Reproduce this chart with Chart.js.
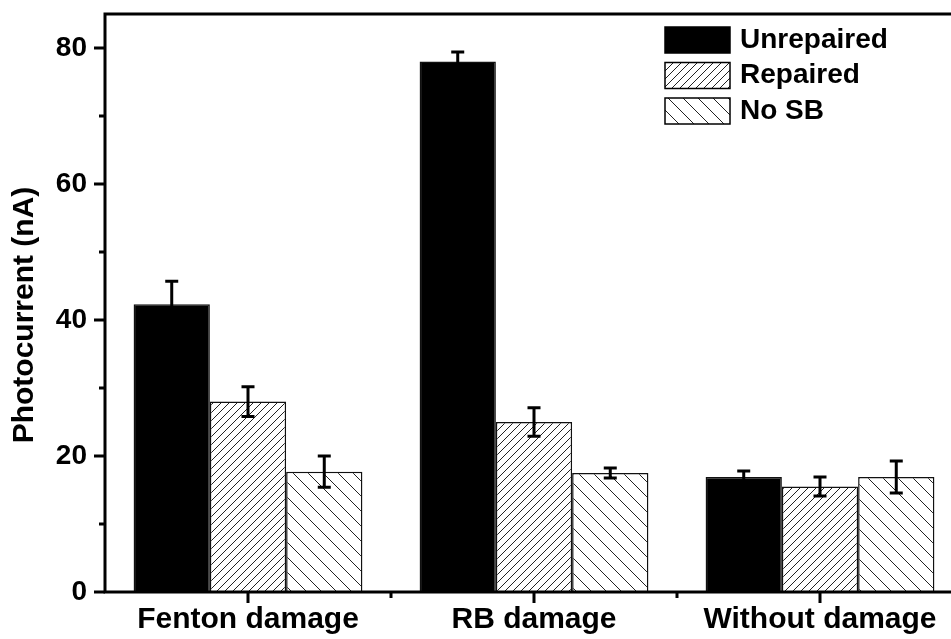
<!DOCTYPE html>
<html><head><meta charset="utf-8">
<script src="https://cdn.jsdelivr.net/npm/chart.js@4"></script>
<style>html,body{margin:0;padding:0;overflow:hidden;background:#fff;width:951px;height:639px}</style>
</head><body>
<canvas id="c" width="980" height="639"></canvas>
<script>
const categories = ['Fenton damage', 'RB damage', 'Without damage'];
const seriesNames = ['Unrepaired', 'Repaired', 'No SB'];
const unrepaired = [42.3, 78.0, 16.9];
const unrepairedErr = [3.4, 1.4, 0.9];
const repaired = [28.0, 25.0, 15.5];
const repairedErr = [2.2, 2.1, 1.4];
const noSB = [17.7, 17.5, 16.9];
const noSBErr = [2.3, 0.75, 2.35];
const yMajorTicks = [0, 20, 40, 60, 80];
const yMinorTicks = [10, 30, 50, 70];
const yTitle = 'Photocurrent (nA)';
const yMin = 0, yMax = 85;

const FONT = "'Liberation Sans', Arial, sans-serif";
const canvas = document.getElementById('c');
const ctx = canvas.getContext('2d');

function hatch(s, dir) {
  const c = document.createElement('canvas');
  c.width = s; c.height = s;
  const x = c.getContext('2d');
  x.fillStyle = '#fff'; x.fillRect(0, 0, s, s);
  x.strokeStyle = '#222'; x.lineWidth = 1;
  x.beginPath();
  if (dir > 0) {
    x.moveTo(-1, 1); x.lineTo(1, -1);
    x.moveTo(0, s); x.lineTo(s, 0);
    x.moveTo(s - 1, s + 1); x.lineTo(s + 1, s - 1);
  } else {
    x.moveTo(0, 0); x.lineTo(s, s);
    x.moveTo(-1, s - 1); x.lineTo(1, s + 1);
    x.moveTo(s - 1, -1); x.lineTo(s + 1, 1);
  }
  x.stroke();
  return ctx.createPattern(c, 'repeat');
}

const fills = ['#000', hatch(8, 1), hatch(15, -1)];
const errs = [unrepairedErr, repairedErr, noSBErr];

const decor = {
  id: 'decor',
  afterDatasetsDraw(chart) {
    const c = chart.ctx;
    const {left, right, top, bottom} = chart.chartArea;
    const ys = chart.scales.y, xs = chart.scales.x;
    c.save();
    // error bars
    c.strokeStyle = '#000'; c.lineWidth = 3; c.lineCap = 'butt';
    chart.data.datasets.forEach((ds, di) => {
      const meta = chart.getDatasetMeta(di);
      meta.data.forEach((bar, i) => {
        const v = ds.data[i], e = errs[di][i];
        const y1 = ys.getPixelForValue(v + e), y2 = ys.getPixelForValue(v - e);
        c.beginPath();
        c.moveTo(bar.x, y1); c.lineTo(bar.x, y2);
        c.moveTo(bar.x - 6.5, y1); c.lineTo(bar.x + 6.5, y1);
        c.moveTo(bar.x - 6.5, y2); c.lineTo(bar.x + 6.5, y2);
        c.stroke();
      });
    });
    // frame
    c.lineWidth = 3;
    c.strokeRect(left, top, right - left, bottom - top);
    // y ticks
    c.beginPath();
    yMajorTicks.forEach(v => { const y = ys.getPixelForValue(v); c.moveTo(left - 11, y); c.lineTo(left, y); });
    yMinorTicks.forEach(v => { const y = ys.getPixelForValue(v); c.moveTo(left - 6, y); c.lineTo(left, y); });
    // x ticks
    categories.forEach((_, i) => { const x = xs.getPixelForValue(i); c.moveTo(x, bottom); c.lineTo(x, bottom + 11); });
    for (let i = 1; i < categories.length; i++) {
      const x = (xs.getPixelForValue(i - 1) + xs.getPixelForValue(i)) / 2;
      c.moveTo(x, bottom); c.lineTo(x, bottom + 6);
    }
    c.stroke();
    // legend
    c.font = 'bold 28px ' + FONT;
    c.textBaseline = 'middle'; c.textAlign = 'left';
    chart.data.datasets.forEach((ds, di) => {
      const bx = left + 560, by = top + 13 + di * 35.5, bw = 65, bh = 26;
      c.fillStyle = ds.backgroundColor;
      c.fillRect(bx, by, bw, bh);
      c.lineWidth = 1.5; c.strokeStyle = '#000';
      c.strokeRect(bx, by, bw, bh);
      c.fillStyle = '#000';
      c.fillText(ds.label, bx + 75, by + bh / 2);
    });
    // y title
    c.translate(25, 315);
    c.rotate(-Math.PI / 2);
    c.font = 'bold 30px ' + FONT;
    c.textAlign = 'center'; c.textBaseline = 'middle';
    c.fillStyle = '#000';
    c.fillText(yTitle, 0, 0);
    c.restore();
  }
};

new Chart(ctx, {
  type: 'bar',
  data: {
    labels: categories,
    datasets: [
      {label: seriesNames[0], data: unrepaired, backgroundColor: fills[0]},
      {label: seriesNames[1], data: repaired, backgroundColor: fills[1]},
      {label: seriesNames[2], data: noSB, backgroundColor: fills[2]}
    ]
  },
  options: {
    responsive: false,
    animation: false,
    devicePixelRatio: 1,
    layout: {padding: {left: 0, top: 14, right: 17, bottom: 0}},
    datasets: {bar: {categoryPercentage: 0.8, barPercentage: 1.0, borderWidth: 1.5, borderColor: '#111'}},
    plugins: {legend: {display: false}, tooltip: {enabled: false}},
    scales: {
      x: {
        grid: {display: true, drawOnChartArea: false, drawTicks: false},
        border: {display: false},
        ticks: {font: {family: FONT, size: 30, weight: 'bold'}, color: '#000', padding: 10, maxRotation: 0, autoSkip: false},
        afterFit(s) { s.height = 47; s.paddingLeft = 0; s.paddingRight = 0; }
      },
      y: {
        min: yMin, max: yMax,
        grid: {display: true, drawOnChartArea: false, drawTicks: false},
        border: {display: false},
        ticks: {stepSize: 20, font: {family: FONT, size: 28, weight: 'bold'}, color: '#000', padding: 18,
          callback: v => (yMajorTicks.includes(v) ? String(v) : '')},
        afterFit(s) { s.width = 105; s.paddingTop = 0; s.paddingBottom = 0; }
      }
    }
  },
  plugins: [decor]
});
</script>
</body></html>
